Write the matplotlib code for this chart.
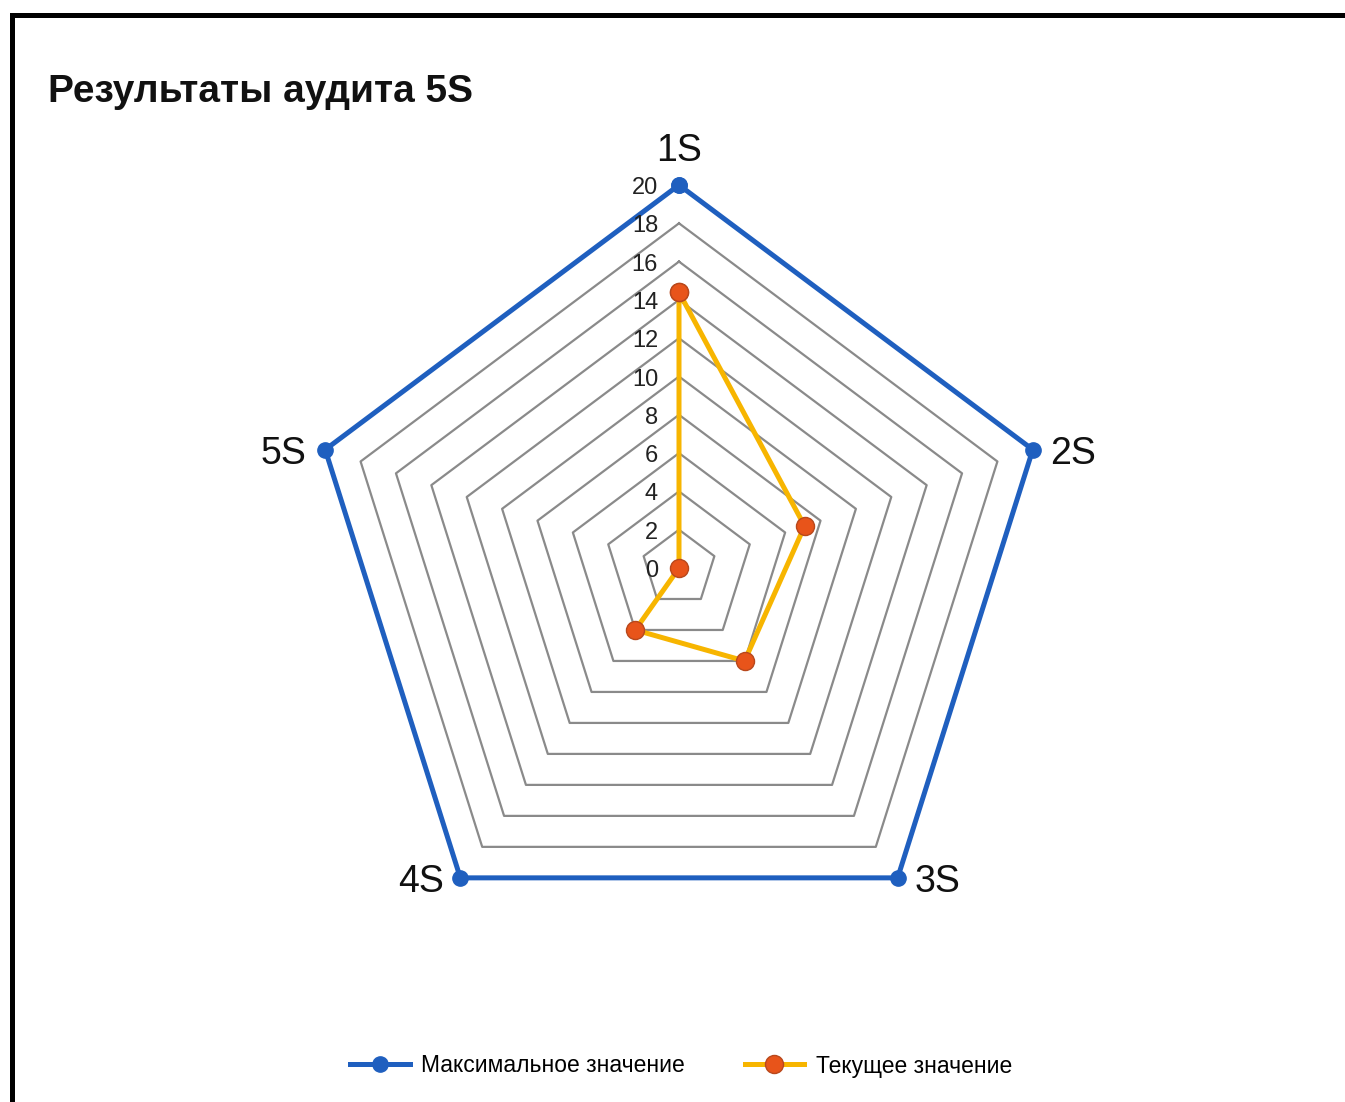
import numpy as np
import matplotlib
matplotlib.use('Agg')
import matplotlib.pyplot as plt
from matplotlib.patches import Rectangle
from matplotlib.transforms import offset_copy

plt.rcParams['font.family'] = ['Liberation Sans', 'DejaVu Sans']

categories = ['1S', '2S', '3S', '4S', '5S']
max_values = [20, 20, 20, 20, 20]
current_values = [14.4, 7.1, 6, 4, 0]
grid_levels = [2, 4, 6, 8, 10, 12, 14, 16, 18]
tick_values = [0, 2, 4, 6, 8, 10, 12, 14, 16, 18, 20]

title = 'Результаты аудита 5S'
max_label = 'Максимальное значение'
current_label = 'Текущее значение'

blue = '#1f5fbf'
gold = '#f7b500'
orange = '#e8541a'
grey = '#8a8a8a'

# angles: 1S on top, going clockwise
angles = np.deg2rad(90 - 72 * np.arange(len(categories)))


def to_xy(values):
    v = np.asarray(values, dtype=float)
    x = v * np.cos(angles)
    y = v * np.sin(angles)
    # close the polygon
    return np.append(x, x[0]), np.append(y, y[0])


W, H = 1345, 1102
fig = plt.figure(figsize=(W / 100, H / 100), dpi=100)

# axes box in pixels (center 679, 568)
cx, cy, hw, hh = 679, 568, 372, 383
ax = fig.add_axes([(cx - hw) / W, 1 - (cy + hh) / H, 2 * hw / W, 2 * hh / H])
ax.set_xlim(-20, 20)
ax.set_ylim(-20, 20)
ax.axis('off')

for level in grid_levels:
    gx, gy = to_xy([level] * len(categories))
    ax.plot(gx, gy, color=grey, linewidth=1.6, zorder=1)

mx, my = to_xy(max_values)
ax.plot(mx, my, color=blue, linewidth=3.6, marker='o', markersize=11,
        markerfacecolor=blue, markeredgecolor=blue, zorder=3, clip_on=False,
        label=max_label)

px, py = to_xy(current_values)
ax.plot(px, py, color=gold, linewidth=3.6, marker='o', markersize=13,
        markerfacecolor=orange, markeredgecolor='#b8481c', markeredgewidth=1,
        zorder=4, clip_on=False, label=current_label)

# radial tick labels along the 1S axis
tick_tr = offset_copy(ax.transData, fig=fig, x=-21, y=-3, units='dots')
for v in tick_values:
    ax.text(0, v, str(v), transform=tick_tr, ha='right', va='center',
            fontsize=17, color='#222222', zorder=5)

# category labels
label_offsets = [(0, 38, 'center'), (17, 0, 'left'), (17, 0, 'left'),
                 (-16, 0, 'right'), (-19, 0, 'right')]
for cat, a, (dx, dy, ha) in zip(categories, angles, label_offsets):
    tr = offset_copy(ax.transData, fig=fig, x=dx, y=dy, units='dots')
    ax.text(20 * np.cos(a), 20 * np.sin(a), cat, transform=tr, ha=ha,
            va='center_baseline', fontsize=27, color='#111111')

fig.text(48 / W, 1 - 102 / H, title, fontsize=28, fontweight='bold',
         ha='left', va='baseline', color='#111111')

fig.legend(loc='center', bbox_to_anchor=(681 / W, 1 - 1066 / H), ncol=2,
           frameon=False, fontsize=16.5, handlelength=2.6, handletextpad=0.5,
           columnspacing=2.6)

# outer frame (only top and left edges visible)
fig.add_artist(Rectangle((11.5 / W, -0.5), 2, 1.5 - 15 / H, fill=False,
                         edgecolor='black', linewidth=3.6,
                         transform=fig.transFigure, clip_on=False))

fig.savefig('out.png', dpi=100, facecolor='white')
